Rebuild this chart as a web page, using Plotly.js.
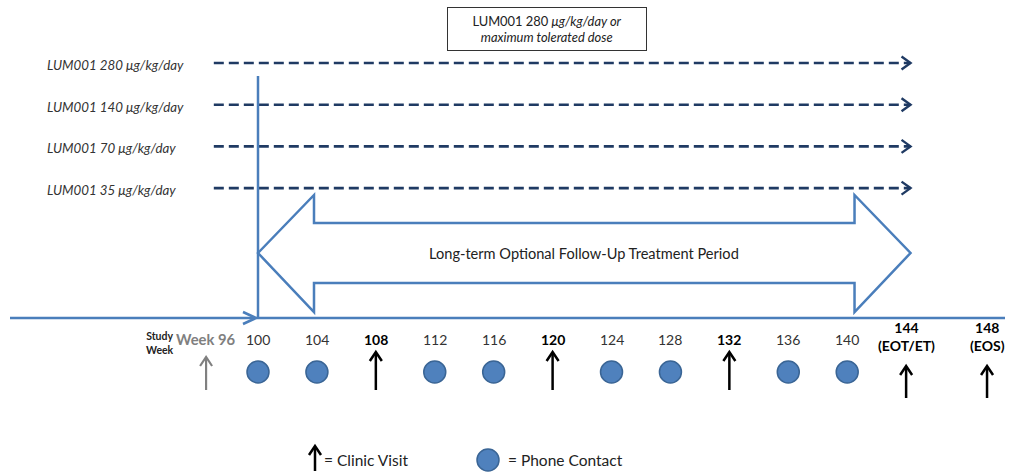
<!DOCTYPE html>
<html><head><meta charset="utf-8">
<script src="https://cdn.plot.ly/plotly-3.0.1.min.js"></script>
<style>html,body{margin:0;padding:0;background:#fff}#chart{width:1013px;height:476px}</style>
</head><body><div id="chart"></div>
<script>
// ---------------- data ----------------
const doseLabels = ['LUM001 280 μg/kg/day', 'LUM001 140 μg/kg/day', 'LUM001 70 μg/kg/day', 'LUM001 35 μg/kg/day'];
const doseStartWeek = 97;
const doseEndWeek = 144.3;
const studyWeeks = [96, 100, 104, 108, 112, 116, 120, 124, 128, 132, 136, 140, 144, 148];
const weekLabels = ['Week 96', '100', '104', '108', '112', '116', '120', '124', '128', '132', '136', '140', '144<br>(EOT/ET)', '148<br>(EOS)'];
const clinicVisitWeeks = [96, 108, 120, 132, 144, 148];
const phoneContactWeeks = [100, 104, 112, 116, 124, 128, 136, 140];
const periodStartWeek = 100;
const periodEndWeek = 144.3;
const periodLabel = 'Long-term Optional Follow-Up Treatment Period';
const boxLines = ['LUM001 280 <i>μg/kg/day or</i>', '<i>maximum tolerated dose</i>'];
const legendLabels = ['= Clinic Visit', '= Phone Contact'];
const axisLabel = 'Study<br>Week';
const baselineWeek = 96;

// ---------------- style / geometry ----------------
const W = 1013, H = 476;
const PX_PER_WEEK = 14.73;
const X0 = 82.485;                      // week at left edge
const X1 = X0 + W / PX_PER_WEEK;
const FONT = 'Lato, "Open Sans", sans-serif';
const BLUE = '#4a7ebb';
const NAVY = '#1f3a63';
const nudge = {96: 7, 148: 22};         // pixel nudges of irregular columns
const rowY = i => 63 + i * 41.7;
const AXIS_Y = 318;

const shapes = [];
const annotations = [];

// dose rows: dashed arrows + labels
doseLabels.forEach((lab, i) => {
  const y = rowY(i);
  shapes.push({type: 'line', xref: 'x', yref: 'y', x0: doseStartWeek, x1: doseEndWeek, y0: y, y1: y,
    line: {color: NAVY, width: 2.6, dash: '10px,5px'}});
  shapes.push({type: 'path', xref: 'x', yref: 'y', xsizemode: 'pixel', xanchor: doseEndWeek,
    path: `M -9 ${y - 6.5} L 0 ${y} L -9 ${y + 6.5}`, line: {color: NAVY, width: 2.4}});
  annotations.push({xref: 'paper', yref: 'y', x: 45 / W, y: y + 2, xanchor: 'left', yanchor: 'middle',
    text: `<i>${lab}</i>`, showarrow: false, font: {family: FONT, size: 13.3, color: '#333'}});
});

// top box
annotations.push({xref: 'paper', yref: 'y', x: 547 / W, y: 29, xanchor: 'center', yanchor: 'middle',
  text: boxLines.join('<br>'), showarrow: false, width: 196, height: 40, bordercolor: '#333', borderwidth: 1,
  bgcolor: '#fff', font: {family: FONT, size: 12.9, color: '#222'}});

// main timeline
shapes.push({type: 'line', xref: 'paper', yref: 'y', x0: 10 / W, x1: 1005 / W, y0: AXIS_Y, y1: AXIS_Y,
  line: {color: BLUE, width: 2.5}});
shapes.push({type: 'path', xref: 'x', yref: 'y', xsizemode: 'pixel', xanchor: periodStartWeek,
  path: `M -15 ${AXIS_Y - 6} L -2 ${AXIS_Y} L -15 ${AXIS_Y + 6}`, line: {color: BLUE, width: 2.5}});
// vertical start line
shapes.push({type: 'line', xref: 'x', yref: 'y', x0: periodStartWeek, x1: periodStartWeek, y0: 76, y1: AXIS_Y,
  line: {color: BLUE, width: 2.5}});

// big double arrow
const hl = 56 / PX_PER_WEEK;
const a = periodStartWeek, b = periodEndWeek;
const yTip = 253, yHT = 195, yST = 223, ySB = 283, yHB = 312;
shapes.push({type: 'path', xref: 'x', yref: 'y',
  path: `M ${a} ${yTip} L ${a + hl} ${yHT} L ${a + hl} ${yST} L ${b - hl} ${yST} L ${b - hl} ${yHT} L ${b} ${yTip} ` +
        `L ${b - hl} ${yHB} L ${b - hl} ${ySB} L ${a + hl} ${ySB} L ${a + hl} ${yHB} Z`,
  fillcolor: 'rgba(255,255,255,0)', line: {color: BLUE, width: 2.5}});
annotations.push({xref: 'x', yref: 'y', x: (a + b) / 2, y: yTip, text: periodLabel, showarrow: false,
  font: {family: FONT, size: 14.6, color: '#222'}});

// axis label
annotations.push({xref: 'paper', yref: 'y', x: 145 / W, y: 343, text: `<b>${axisLabel}</b>`, showarrow: false,
  borderpad: 0, font: {family: FONT, size: 10.5, color: '#222'}});

// week labels
studyWeeks.forEach((w, i) => {
  const isBase = w === baselineWeek;
  const isBold = clinicVisitWeeks.includes(w);
  const two = weekLabels[i].includes('<br>');
  annotations.push({xref: 'x', yref: 'y', x: w, y: two ? 336 : 339, xshift: nudge[w] || 0, borderpad: 0,
    text: isBold ? `<b>${weekLabels[i]}</b>` : weekLabels[i], showarrow: false,
    font: {family: FONT, size: isBase ? 14.8 : 14, color: isBase ? '#808080' : (isBold ? '#000' : '#333')}});
});

// clinic visit arrows
function upArrow(xref, xanchor, xshift, tip, bottom, color, width) {
  shapes.push({type: 'line', xref: xref, yref: 'y', xsizemode: 'pixel', xanchor: xanchor,
    x0: xshift, x1: xshift, y0: tip + 1, y1: bottom, line: {color: color, width: width}});
  shapes.push({type: 'path', xref: xref, yref: 'y', xsizemode: 'pixel', xanchor: xanchor,
    path: `M ${xshift - 6} ${tip + 9} L ${xshift} ${tip} L ${xshift + 6} ${tip + 9}`, line: {color: color, width: width}});
}
clinicVisitWeeks.forEach(w => {
  const i = studyWeeks.indexOf(w);
  const two = weekLabels[i].includes('<br>');
  const isBase = w === baselineWeek;
  const tip = two ? 366 : (isBase ? 357 : 352);
  const bottom = two ? 398 : 390;
  upArrow('x', w, nudge[w] || 0, tip, bottom, isBase ? '#808080' : '#000', isBase ? 2.2 : 2.5);
});

// phone contacts
const traces = [{
  type: 'scatter', mode: 'markers', x: phoneContactWeeks, y: phoneContactWeeks.map(() => 372),
  marker: {size: 22, color: '#4f81bd', line: {color: '#3a6595', width: 1.5}}, hoverinfo: 'x', showlegend: false
}];

// legend
upArrow('paper', 315 / W, 0, 446, 471, '#000', 2.5);
annotations.push({xref: 'paper', yref: 'y', x: 322 / W, y: 460, xanchor: 'left', text: legendLabels[0], showarrow: false,
  font: {family: FONT, size: 15.5, color: '#222'}});
shapes.push({type: 'circle', xref: 'paper', yref: 'y', x0: 477 / W, x1: 499 / W, y0: 449, y1: 471,
  fillcolor: '#4f81bd', line: {color: '#3a6595', width: 1.5}});
annotations.push({xref: 'paper', yref: 'y', x: 506 / W, y: 460, xanchor: 'left', text: legendLabels[1], showarrow: false,
  font: {family: FONT, size: 15.5, color: '#222'}});

const layout = {
  width: W, height: H, autosize: false,
  margin: {l: 0, r: 0, t: 0, b: 0, pad: 0},
  paper_bgcolor: '#fff', plot_bgcolor: '#fff',
  xaxis: {range: [X0, X1], visible: false, fixedrange: true},
  yaxis: {range: [H, 0], visible: false, fixedrange: true},
  shapes: shapes, annotations: annotations, showlegend: false
};
Plotly.newPlot('chart', traces, layout, {displayModeBar: false, staticPlot: true});
</script></body></html>
